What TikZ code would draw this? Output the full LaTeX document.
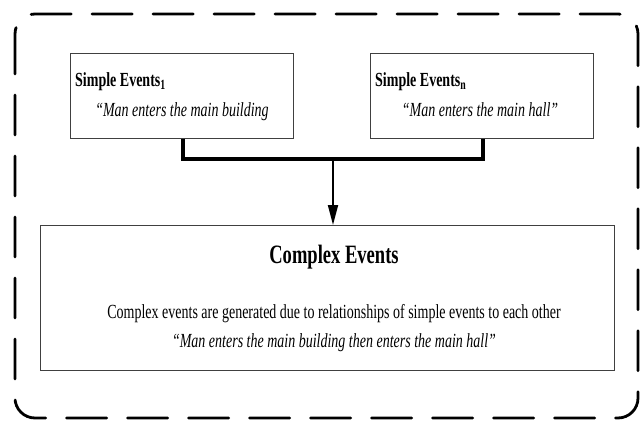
\documentclass[tikz,border=0pt]{standalone}
\usepackage{fontspec}
\setmainfont{Liberation Serif}[FakeStretch=0.7]
\usetikzlibrary{arrows.meta}
\begin{document}
\begin{tikzpicture}[x=1pt,y=-1pt,
  simplebox/.style={draw=black!75,line width=0.8pt},
  joinline/.style={line width=3.2pt,line cap=butt},
  outerbox/.style={line width=2.8pt,line cap=round,rounded corners=20pt,dash pattern=on 40pt off 21pt},
  txt/.style={inner sep=0pt,font=\fontsize{20}{22}\selectfont},
  titletxt/.style={inner sep=0pt,anchor=base west,font=\fontsize{20}{22}\selectfont\bfseries},
  quotetxt/.style={inner sep=0pt,anchor=base,font=\fontsize{20}{22}\selectfont\itshape}]
\useasboundingbox (0,0) rectangle (642,423);
\draw[outerbox] (15,14) rectangle (638,418);
\node[simplebox,minimum width=223pt,minimum height=85pt,anchor=north west] (s1) at (70,53) {};
\node[simplebox,minimum width=223pt,minimum height=85pt,anchor=north west] (sn) at (370,53) {};
\node[simplebox,minimum width=574pt,minimum height=145pt,anchor=north west] (c) at (40,225) {};
\node[titletxt] (t1) at (75,86) {Simple Events\textsubscript{1}};
\node[titletxt] (tn) at (375,86) {Simple Events\textsubscript{n}};
\node[quotetxt] (q1) at (182,116) {``Man enters the main building};
\node[quotetxt] (qn) at (480,116) {``Man enters the main hall''};
\node[inner sep=0pt,anchor=base,font=\fontsize{26.5}{28}\selectfont\bfseries] (ct) at (334,263) {Complex Events};
\node[txt,anchor=base] (cd) at (334,318) {Complex events are generated due to relationships of simple events to each other};
\node[quotetxt] (cq) at (334,347) {``Man enters the main building then enters the main hall''};
\coordinate (j) at (333,159);
\draw[joinline] (s1.south -| 183,0) |- (j) -| (sn.south -| 483,0);
\draw[line width=1.8pt,-{Triangle[length=20pt,width=10pt]}] (j) -- (c.north -| j);
\end{tikzpicture}
\end{document}
